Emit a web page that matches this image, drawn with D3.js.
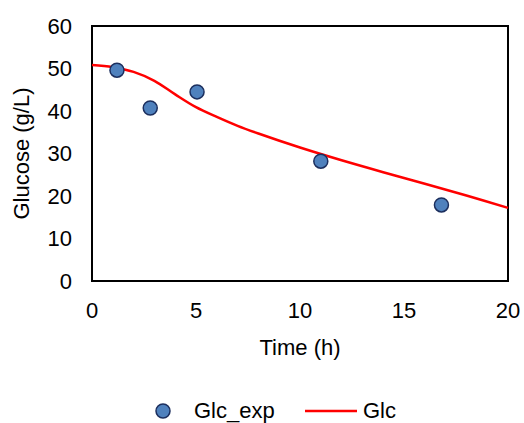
<!DOCTYPE html>
<html>
<head>
<meta charset="utf-8">
<script src="https://cdn.jsdelivr.net/npm/d3@7"></script>
<style>
  body { margin: 0; background: #fff; }
  text { font-family: "Liberation Sans", Arial, sans-serif; fill: #000; }
</style>
</head>
<body>
<div id="main"></div>
<script>
const W = 524, H = 423;
const margin = {left: 92, top: 26, right: 16, bottom: 142};
const FS = "22px";

// measured points
const expTime = [1.2, 2.8, 5.05, 11.0, 16.8];
const expGlc = [49.6, 40.7, 44.5, 28.2, 17.9];

// model curve
const modelTime = [0, 1, 2, 3, 4, 5, 6, 7, 8, 10, 12, 14, 16, 18, 20];
const modelGlc = [50.8, 50.3, 49.2, 47.1, 43.9, 40.9, 38.6, 36.5, 34.7, 31.4, 28.4, 25.6, 22.9, 20.1, 17.2];

const xTicks = [0, 5, 10, 15, 20];
const yTicks = [0, 10, 20, 30, 40, 50, 60];

const svg = d3.select("#main").append("svg")
    .attr("width", W)
    .attr("height", H);

const x = d3.scaleLinear().domain([0, 20]).range([margin.left, W - margin.right]);
const y = d3.scaleLinear().domain([0, 60]).range([H - margin.bottom, margin.top]);

// frame
svg.append("rect")
    .attr("x", x(0))
    .attr("y", y(60))
    .attr("width", x(20) - x(0))
    .attr("height", y(0) - y(60))
    .attr("fill", "none")
    .attr("stroke", "#000")
    .attr("stroke-width", 2);

// tick labels
svg.append("g").selectAll("text")
    .data(yTicks)
    .enter()
    .append("text")
    .attr("x", x(0) - 20)
    .attr("y", d => y(d))
    .attr("dy", "0.36em")
    .attr("text-anchor", "end")
    .style("font-size", FS)
    .text(d => d);

svg.append("g").selectAll("text")
    .data(xTicks)
    .enter()
    .append("text")
    .attr("x", d => x(d))
    .attr("y", y(0) + 37)
    .attr("text-anchor", "middle")
    .style("font-size", FS)
    .text(d => d);

// axis titles
svg.append("text")
    .attr("x", (x(0) + x(20)) / 2)
    .attr("y", 355)
    .attr("text-anchor", "middle")
    .style("font-size", FS)
    .text("Time (h)");

svg.append("text")
    .attr("transform", `translate(29,${(y(0) + y(60)) / 2}) rotate(-90)`)
    .attr("text-anchor", "middle")
    .style("font-size", FS)
    .text("Glucose (g/L)");

// model line
const line = d3.line()
    .x(d => x(d[0]))
    .y(d => y(d[1]))
    .curve(d3.curveCatmullRom);

svg.append("path")
    .datum(modelTime.map((t, i) => [t, modelGlc[i]]))
    .attr("d", line)
    .attr("fill", "none")
    .attr("stroke", "#ff0000")
    .attr("stroke-width", 2.5);

// points
svg.append("g").selectAll("circle")
    .data(expTime.map((t, i) => [t, expGlc[i]]))
    .enter()
    .append("circle")
    .attr("cx", d => x(d[0]))
    .attr("cy", d => y(d[1]))
    .attr("r", 7)
    .attr("fill", "#4f81bd")
    .attr("stroke", "#1c2f5e")
    .attr("stroke-width", 1.5);

// legend
const lg = svg.append("g");
lg.append("circle")
    .attr("cx", 163).attr("cy", 411).attr("r", 7)
    .attr("fill", "#4f81bd")
    .attr("stroke", "#1c2f5e")
    .attr("stroke-width", 1.5);
lg.append("text")
    .attr("x", 194).attr("y", 418)
    .style("font-size", FS)
    .text("Glc_exp");
lg.append("line")
    .attr("x1", 305).attr("x2", 357)
    .attr("y1", 411).attr("y2", 411)
    .attr("stroke", "#ff0000")
    .attr("stroke-width", 2.5);
lg.append("text")
    .attr("x", 363).attr("y", 418)
    .style("font-size", FS)
    .text("Glc");
</script>
</body>
</html>
